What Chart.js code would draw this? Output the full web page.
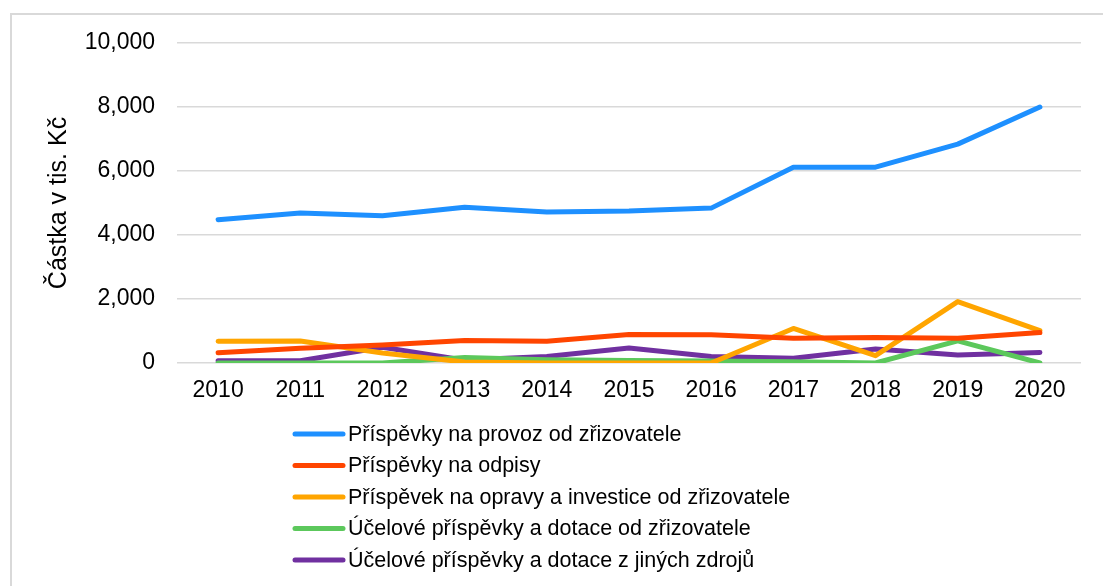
<!DOCTYPE html>
<html>
<head>
<meta charset="utf-8">
<script src="https://cdn.jsdelivr.net/npm/chart.js@4"></script>
<style>
  html, body { margin: 0; padding: 0; background: #fff; }
  #wrap { position: relative; width: 1103px; height: 586px; overflow: hidden; }
  #frame { position: absolute; left: 10px; top: 13px; width: 1200px; height: 700px; border: 2px solid #d9d9d9; box-sizing: border-box; }
  canvas { position: absolute; left: 0; top: 0; }
</style>
</head>
<body>
<div id="wrap">
  <div id="frame"></div>
  <canvas id="myChart" width="1103" height="586"></canvas>
</div>
<script>
var years = ["2010", "2011", "2012", "2013", "2014", "2015", "2016", "2017", "2018", "2019", "2020"];
var provoz = [4480, 4690, 4600, 4870, 4720, 4750, 4840, 6120, 6120, 6840, 8000];
var odpisy = [320, 460, 560, 700, 680, 890, 880, 770, 800, 770, 950];
var opravy = [680, 690, 310, 30, 0, 0, 0, 1080, 230, 1920, 1010];
var ucelZriz = [0, 0, 0, 170, 100, 80, 60, 40, 0, 690, 0];
var ucelJine = [70, 70, 490, 90, 200, 470, 200, 150, 440, 250, 330];
var seriesNames = [
  "Příspěvky na provoz od zřizovatele",
  "Příspěvky na odpisy",
  "Příspěvek na opravy a investice od zřizovatele",
  "Účelové příspěvky a dotace od zřizovatele",
  "Účelové příspěvky a dotace z jiných zdrojů"
];
var colors = ["#1e90ff", "#ff4500", "#ffa500", "#5cc85c", "#7030a0"];

var font = "Arial, 'Liberation Sans', sans-serif";

function makeSet(i, values) {
  return {
    label: seriesNames[i],
    data: values,
    borderColor: colors[i],
    backgroundColor: colors[i],
    borderWidth: 5,
    pointRadius: 0,
    tension: 0,
    borderCapStyle: "round",
    borderJoinStyle: "round",
  };
}

// legend drawn as one column under the plot
var columnLegend = {
  id: "columnLegend",
  afterDraw: function (chart) {
    var c = chart.ctx;
    c.save();
    c.font = "21.5px " + font;
    c.textBaseline = "middle";
    c.textAlign = "left";
    chart.data.datasets.forEach(function (ds, i) {
      var y = 434 + i * 31.5;
      c.strokeStyle = ds.borderColor;
      c.lineWidth = 5;
      c.lineCap = "round";
      c.beginPath();
      c.moveTo(295, y);
      c.lineTo(343, y);
      c.stroke();
      c.fillStyle = "#000";
      c.fillText(ds.label, 348, y + 1);
    });
    c.restore();
  },
};

var ctx = document.getElementById("myChart");
var myChart = new Chart(ctx, {
  type: "line",
  data: {
    labels: years,
    datasets: [
      makeSet(0, provoz),
      makeSet(1, odpisy),
      makeSet(2, opravy),
      makeSet(3, ucelZriz),
      makeSet(4, ucelJine),
    ],
  },
  options: {
    responsive: false,
    animation: false,
    layout: {
      padding: { left: 0, top: 43, right: 22, bottom: 183 },
    },
    plugins: {
      legend: { display: false },
      tooltip: { enabled: false },
    },
    scales: {
      x: {
        offset: true,
        grid: { display: false, drawTicks: false },
        border: { display: false },
        ticks: {
          color: "#000",
          padding: 14,
          font: { size: 23, family: font },
        },
        afterFit: function (scale) {
          scale.height = 40;
        },
      },
      y: {
        min: 0,
        max: 10000,
        grid: { color: "#d9d9d9", lineWidth: 1.5, drawTicks: false },
        border: { display: false },
        ticks: {
          stepSize: 2000,
          color: "#000",
          padding: 22,
          font: { size: 23, family: font },
          callback: function (v) {
            return v.toLocaleString("en-US");
          },
        },
        title: {
          display: true,
          text: "Částka v tis. Kč",
          color: "#000",
          font: { size: 25, family: font },
          padding: { top: 44, bottom: 0 },
        },
        afterFit: function (scale) {
          scale.width = 177;
        },
      },
    },
  },
  plugins: [columnLegend],
});
</script>
</body>
</html>
